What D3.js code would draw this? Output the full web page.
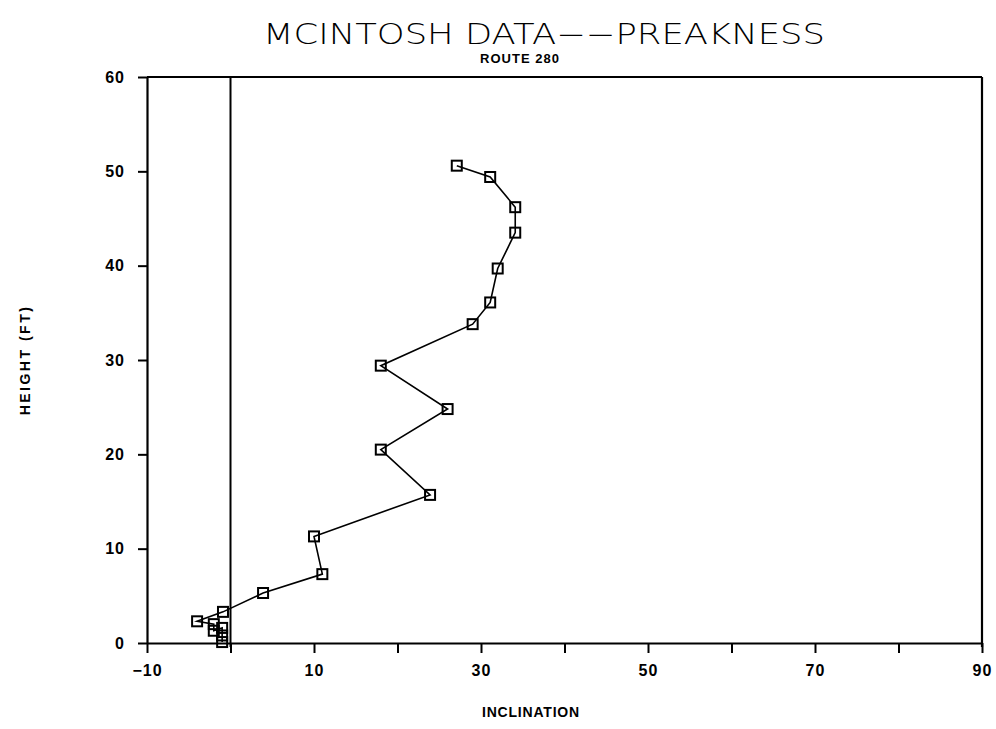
<!DOCTYPE html>
<html>
<head>
<meta charset="utf-8">
<script src="https://cdn.jsdelivr.net/npm/d3@7"></script>
<style>
  body { margin: 0; background: #fff; }
  text { fill: #000; }
</style>
</head>
<body>
<div id="my_dataviz"></div>
<script>
// data (inclination vs height)
var inclination = [27.1, 31.1, 34.1, 34.1, 32.0, 31.1, 29.0, 18.0, 26.0, 18.0, 23.9, 10.0, 11.0, 3.9, -0.9, -4.0, -2.0, -2.0, -1.0, -1.0, -1.0];
var heightFt    = [50.6, 49.4, 46.2, 43.5, 39.7, 36.1, 33.8, 29.4, 24.8, 20.5, 15.7, 11.3, 7.3, 5.3, 3.3, 2.3, 2.0, 1.3, 1.6, 0.8, 0.1];

var xTicks = [-10, 0, 10, 20, 30, 40, 50, 60, 70, 80, 90];
var xTickLabels = ["−10", "", "10", "", "30", "", "50", "", "70", "", "90"];
var yTicks = [0, 10, 20, 30, 40, 50, 60];

var data = inclination.map(function(d, i) { return {x: d, y: heightFt[i]}; });

// set the dimensions and margins of the graph
var margin = {top: 77, right: 14, bottom: 86, left: 147},
    width = 996 - margin.left - margin.right,
    height = 729 - margin.top - margin.bottom;

var svg = d3.select("#my_dataviz")
  .append("svg")
    .attr("width", 996)
    .attr("height", 729)
    .append("g")
    .attr("transform", "translate(" + margin.left + "," + margin.top + ")");

var x = d3.scaleLinear().domain([-10, 90]).range([0, width]);
var y = d3.scaleLinear().domain([0, 60]).range([height, 0]);

// X axis
var xAxis = svg.append("g")
  .attr("transform", "translate(0," + height + ")")
  .call(d3.axisBottom(x)
    .tickValues(xTicks)
    .tickFormat(function(d, i) { return xTickLabels[i]; })
    .tickSizeInner(10)
    .tickSizeOuter(0)
    .tickPadding(12));
xAxis.select(".domain").attr("stroke-width", 2.2);
xAxis.selectAll(".tick line").attr("stroke-width", 2);
xAxis.selectAll("text")
  .style("font-family", "Liberation Sans, Arial, sans-serif")
  .style("font-weight", "bold")
  .style("font-size", "16px")
  .style("letter-spacing", "1px");

// Y axis
var yAxis = svg.append("g")
  .call(d3.axisLeft(y)
    .tickValues(yTicks)
    .tickSizeInner(9)
    .tickSizeOuter(0)
    .tickPadding(13));
yAxis.select(".domain").attr("stroke-width", 2.2);
yAxis.selectAll(".tick line").attr("stroke-width", 2);
yAxis.selectAll("text")
  .style("font-family", "Liberation Sans, Arial, sans-serif")
  .style("font-weight", "bold")
  .style("font-size", "16px")
  .style("letter-spacing", "1px");

// top and right frame
svg.append("line")
  .attr("x1", x(-10)).attr("x2", x(90))
  .attr("y1", y(60)).attr("y2", y(60))
  .attr("stroke", "black").attr("stroke-width", 2.2);
svg.append("line")
  .attr("x1", x(90)).attr("x2", x(90))
  .attr("y1", y(60)).attr("y2", y(0) + 4)
  .attr("stroke", "black").attr("stroke-width", 2.2);

// zero inclination line
svg.append("line")
  .attr("x1", x(0)).attr("x2", x(0))
  .attr("y1", y(60)).attr("y2", y(0) + 4)
  .attr("stroke", "black").attr("stroke-width", 2);

// the profile line
svg.append("path")
  .datum(data)
  .attr("fill", "none")
  .attr("stroke", "black")
  .attr("stroke-width", 1.6)
  .attr("d", d3.line()
    .x(function(d) { return x(d.x); })
    .y(function(d) { return y(d.y); }));

// square markers
svg.selectAll(".pt")
  .data(data)
  .enter()
  .append("rect")
    .attr("class", "pt")
    .attr("x", function(d) { return x(d.x) - 5; })
    .attr("y", function(d) { return y(d.y) - 5; })
    .attr("width", 10)
    .attr("height", 10)
    .attr("fill", "none")
    .attr("stroke", "black")
    .attr("stroke-width", 2);

// titles
svg.append("text")
  .attr("x", 544 - margin.left)
  .attr("y", 44 - margin.top)
  .attr("text-anchor", "middle")
  .attr("textLength", 562)
  .attr("lengthAdjust", "spacingAndGlyphs")
  .style("font-family", "DejaVu Sans, sans-serif")
  .style("font-size", "28px")
  .style("font-weight", "200")
  .text("MCINTOSH DATA−−PREAKNESS");

svg.append("text")
  .attr("x", 520 - margin.left)
  .attr("y", 63 - margin.top)
  .attr("text-anchor", "middle")
  .style("font-family", "Liberation Sans, Arial, sans-serif")
  .style("font-size", "13px")
  .style("font-weight", "bold")
  .style("letter-spacing", "1px")
  .text("ROUTE 280");

// text label for the x axis
svg.append("text")
  .attr("x", 531 - margin.left)
  .attr("y", 717 - margin.top)
  .attr("text-anchor", "middle")
  .style("font-family", "Liberation Sans, Arial, sans-serif")
  .style("font-size", "14px")
  .style("font-weight", "bold")
  .style("letter-spacing", "0.8px")
  .text("INCLINATION");

// text label for the y axis
svg.append("text")
  .attr("transform", "translate(" + (30 - margin.left) + "," + (height / 2) + ") rotate(-90)")
  .attr("text-anchor", "middle")
  .style("font-family", "Liberation Sans, Arial, sans-serif")
  .style("font-size", "14px")
  .style("font-weight", "bold")
  .style("letter-spacing", "2.5px")
  .text("HEIGHT (FT)");
</script>
</body>
</html>
